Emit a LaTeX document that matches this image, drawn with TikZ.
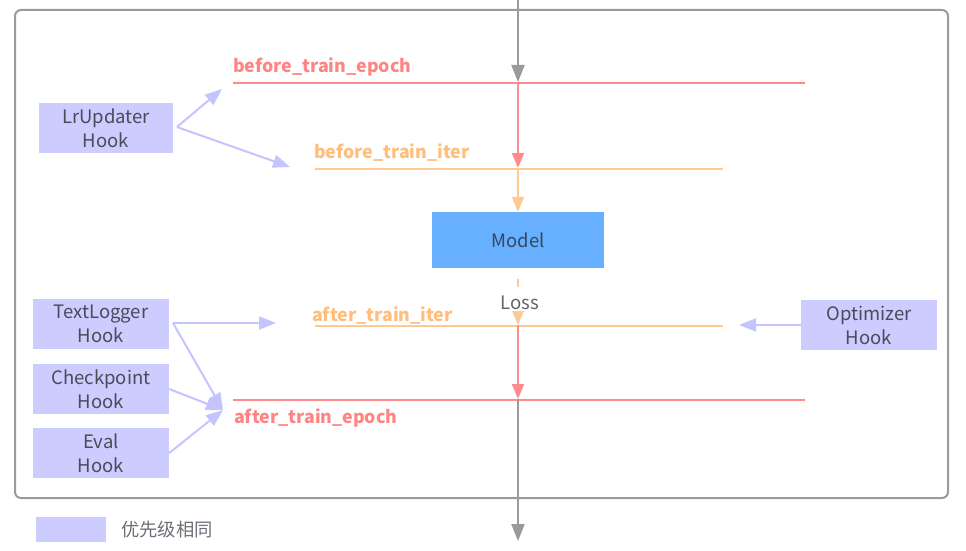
\documentclass[tikz,border=0pt]{standalone}
\usepackage{fontspec}
\setmainfont{Noto Sans CJK SC}
\usetikzlibrary{arrows.meta}
\definecolor{hookc}{HTML}{CCCCFF}
\definecolor{hookarr}{HTML}{C4C4FF}
\definecolor{redc}{HTML}{FF8C8C}
\definecolor{redt}{HTML}{FF8484}
\definecolor{orc}{HTML}{FFC994}
\definecolor{ort}{HTML}{FFBE7A}
\definecolor{grayc}{HTML}{9A9A9A}
\definecolor{modelc}{HTML}{66B0FF}
\definecolor{boxtext}{HTML}{4A4A58}
\definecolor{modeltext}{HTML}{36475E}
\tikzset{
  hookbox/.style={fill=hookc, draw=none, minimum width=136pt, minimum height=50pt,
    align=center, text=boxtext, font=\fontsize{18.5}{24}\selectfont, inner sep=0pt},
  hookarrow/.style={draw=hookarr, line width=2pt, -{Triangle[length=17pt,width=13pt]}},
  redline/.style={draw=redc, line width=2pt},
  orline/.style={draw=orc, line width=2pt},
  redlab/.style={text=redt, font=\fontsize{17.8}{20}\selectfont\bfseries, inner sep=0pt, anchor=base west},
  orlab/.style={text=ort, font=\fontsize{17.8}{20}\selectfont\bfseries, inner sep=0pt, anchor=base west},
  vgray/.style={draw=grayc, line width=2pt, -{Triangle[length=17pt,width=13pt]}},
  vred/.style={draw=redc, line width=2pt, -{Triangle[length=15pt,width=12pt]}},
  vor/.style={draw=orc, line width=2pt, -{Triangle[length=15pt,width=12pt]}},
  frame/.style={draw=grayc, line width=2pt, rounded corners=6pt}
}
\begin{document}
\begin{tikzpicture}[x=1pt,y=-1pt]
\useasboundingbox (0,0) rectangle (966,551);
\draw[frame] (15,10) rectangle (948,498);

% horizontal stage lines
\coordinate (e1l) at (233,83);  \coordinate (e1r) at (805,83);
\coordinate (i1l) at (315,169); \coordinate (i1r) at (723,169);
\coordinate (i2l) at (315,326); \coordinate (i2r) at (723,326);
\coordinate (e2l) at (233,400); \coordinate (e2r) at (805,400);
\draw[redline] (e1l) -- (e1r);
\draw[orline] (i1l) -- (i1r);
\draw[orline] (i2l) -- (i2r);
\draw[redline] (e2l) -- (e2r);
\node[redlab] (lbte) at (233,72) {before\_train\_epoch};
\node[orlab] (lbti) at (314,158) {before\_train\_iter};
\node[orlab] (lati) at (312,321) {after\_train\_iter};
\node[redlab] (late) at (234,423) {after\_train\_epoch};

% main flow
\coordinate (top) at (518,0);
\coordinate (p1) at (518,82);
\coordinate (p2) at (518,168);
\coordinate (p3) at (518,325);
\coordinate (p4) at (518,399);
\coordinate (bot) at (518,541);
\node[fill=modelc, minimum width=172pt, minimum height=56pt, inner sep=0pt,
      text=modeltext, font=\fontsize{18.4}{20}\selectfont] (model) at (518,240) {Model};
\draw[vgray] (top) -- (p1);
\draw[vred] (p1) -- (p2);
\draw[vor] (p2) -- (model.north);
\draw[vor, dash pattern=on 8pt off 11pt, dash phase=8pt] (model.south) -- (p3);
\node[fill=white, inner sep=1pt, text=grayc!65!black, font=\fontsize{18.6}{20}\selectfont] (loss) at (520,303) {Loss};
\draw[vred] (p3) -- (p4);
\draw[vgray] (p4) -- (bot);

% hooks
\node[hookbox, minimum width=134pt] (lr) at (106,128) {LrUpdater\\Hook};
\node[hookbox] (tl) at (101,324) {TextLogger\\Hook};
\node[hookbox] (ck) at (101,389) {Checkpoint\\Hook};
\node[hookbox] (ev) at (101,453) {Eval\\Hook};
\node[hookbox] (op) at (869,325) {Optimizer\\Hook};

\coordinate (lrs) at (177,127);
\coordinate (lrt1) at (222,89);
\coordinate (lrt2) at (290,167);
\draw[hookarrow] (lrs) -- (lrt1);
\draw[hookarrow] (lrs) -- (lrt2);

\coordinate (tls) at (173,323);
\coordinate (tlt) at (276,323);
\coordinate (aep) at (223,410);
\draw[hookarrow] (tls) -- (tlt);
\draw[hookarrow] (tls) -- (aep);
\draw[hookarrow] (ck.east) -- (aep);
\draw[hookarrow] (ev.east) -- (aep);

\coordinate (opt) at (739,325);
\draw[hookarrow] (op.west) -- (opt);

% legend
\node[fill=hookc, minimum width=70pt, minimum height=25pt, inner sep=0pt] (leg) at (71,529.5) {};
\node[anchor=west, inner sep=0pt, text=boxtext!80, font=\fontsize{18.3}{20}\selectfont] (legt) at (121,530) {优先级相同};
\end{tikzpicture}
\end{document}
